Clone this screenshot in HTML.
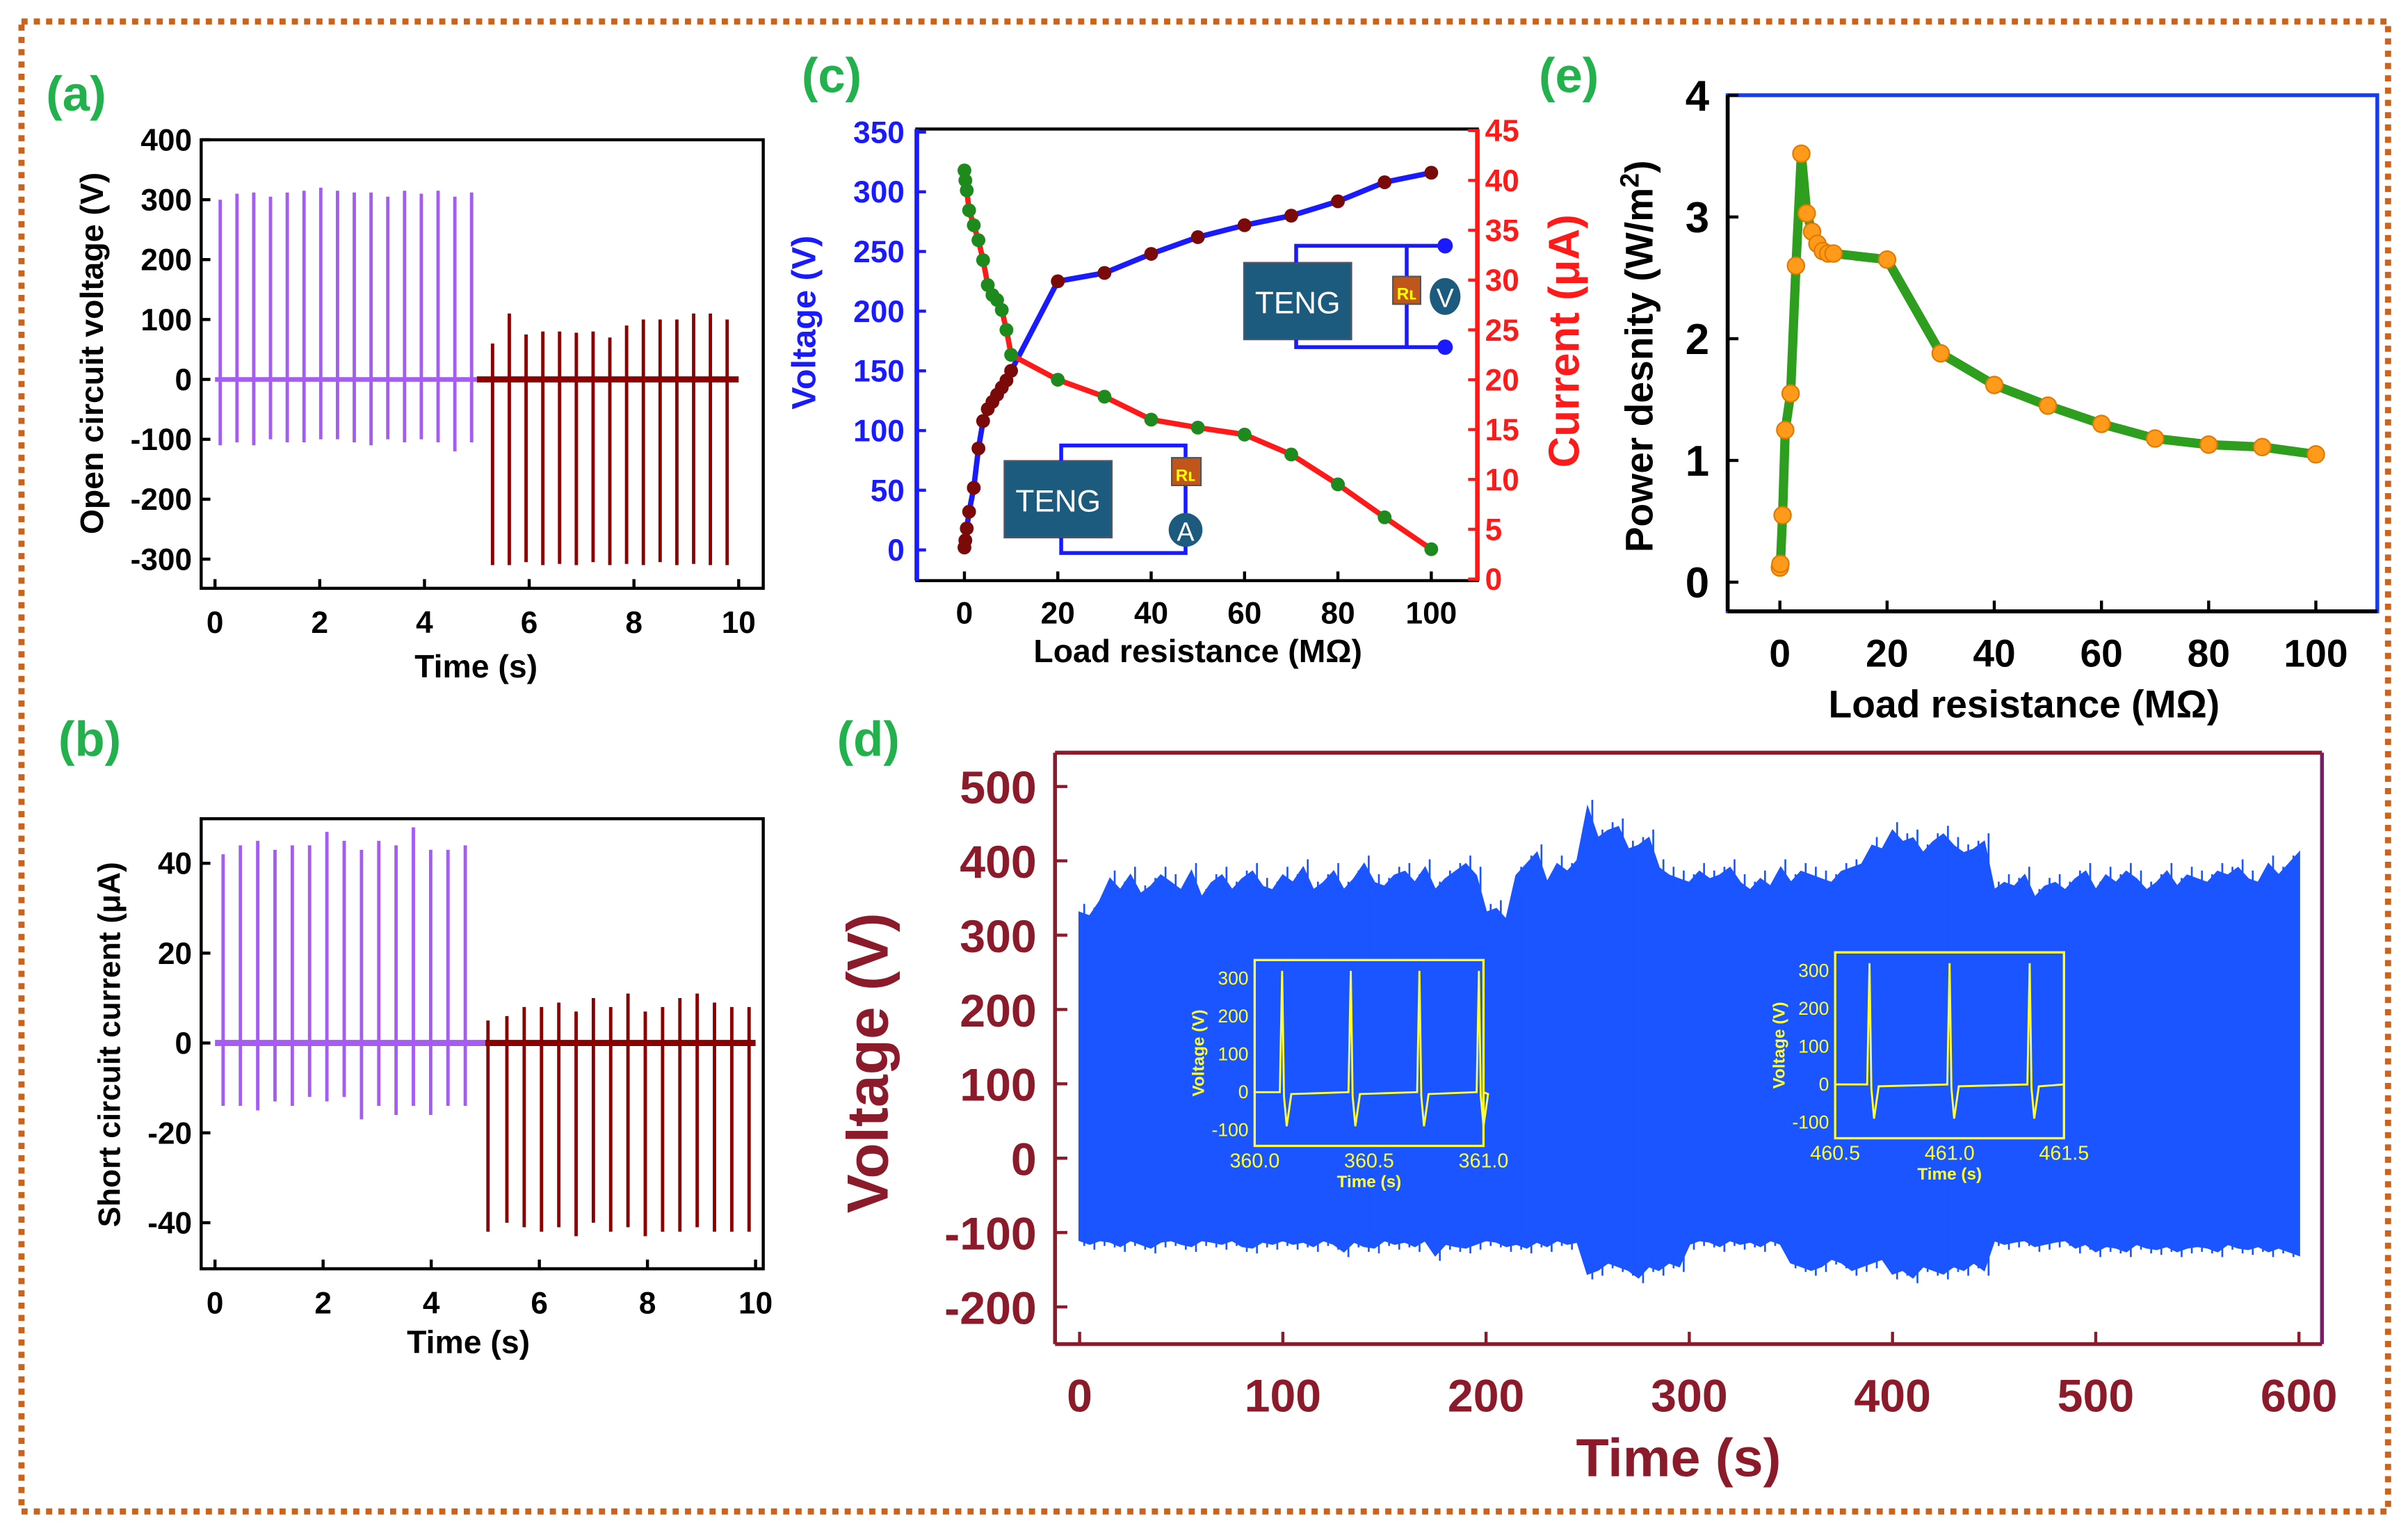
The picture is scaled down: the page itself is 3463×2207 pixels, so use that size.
<!DOCTYPE html>
<html><head><meta charset="utf-8">
<style>
html,body{margin:0;padding:0;background:#fff;}
svg{display:block;font-family:"Liberation Sans",Arial,sans-serif;font-weight:bold;}
</style></head>
<body>
<svg id="fig" xmlns="http://www.w3.org/2000/svg" width="3463" height="2207" viewBox="0 0 1568 999.3">
<rect x="14" y="14" width="1541" height="970" fill="none" stroke="#c8641e" stroke-width="4" stroke-dasharray="4 4"/>
<g id="root"></g>
</svg>
<script>
// ---------- DATA ----------
const aPurpleTimes=[0.1,0.42,0.74,1.06,1.38,1.7,2.02,2.34,2.66,2.98,3.3,3.62,3.94,4.26,4.58,4.9];
const aPurplePeaks=[300,310,312,305,312,315,320,315,312,312,305,315,310,315,305,312];
const aPurpleMins=[-110,-105,-110,-100,-105,-105,-100,-100,-105,-110,-100,-105,-100,-105,-120,-105];
const aRedTimes=[5.3,5.62,5.94,6.26,6.58,6.9,7.22,7.54,7.86,8.18,8.5,8.82,9.14,9.46,9.78];
const aRedPeaks=[60,110,75,80,80,78,80,70,90,100,100,100,110,110,100];
const aRedMins=[-310,-310,-305,-310,-308,-310,-305,-310,-308,-310,-305,-310,-308,-310,-310];
const bPurpleTimes=[0.15,0.47,0.79,1.11,1.43,1.75,2.07,2.39,2.71,3.03,3.35,3.67,3.99,4.31,4.63];
const bPurplePeaks=[42,44,45,43,44,44,47,45,43,45,44,48,43,43,44];
const bPurpleMins=[-14,-14,-15,-13,-14,-12,-13,-12,-17,-14,-16,-14,-16,-14,-14];
const bRedTimes=[5.05,5.4,5.72,6.04,6.36,6.68,7.0,7.32,7.64,7.96,8.28,8.6,8.92,9.24,9.56,9.88];
const bRedPeaks=[5,6,8,8,9,7,10,8,11,7,8,10,11,9,8,8];
const bRedMins=[-42,-40,-41,-42,-41,-43,-40,-42,-41,-43,-42,-42,-41,-42,-42,-42];
const cLoadV=[0,0.2,0.5,1,2,3,4,5,6,7,8,9,10,20,30,40,50,60,70,80,90,100];
const cVolt=[2,8,18,32,52,85,108,118,124,130,136,142,150,225,232,248,262,272,280,292,308,316];
const cLoadI=[0,0.2,0.5,1,2,3,4,5,6,7,8,9,10,20,30,40,50,60,70,80,90,100];
const cCurr=[41,40,39,37,35.5,34,32,29.5,28.5,28,27,25,22.5,20,18.3,16,15.2,14.5,12.5,9.5,6.2,3];
const eLoad=[0,0.1,0.5,1,2,3,4,5,6,7,8,9,10,20,30,40,50,60,70,80,90,100];
const ePower=[0.12,0.15,0.55,1.25,1.55,2.6,3.52,3.03,2.88,2.78,2.72,2.7,2.7,2.65,1.88,1.62,1.45,1.3,1.18,1.13,1.11,1.05];
const dTimes=[];for(let i=0;i<=120;i++)dTimes.push(i*5);
const dUpper=[330,325,345,375,360,380,355,365,380,370,360,385,350,370,380,360,375,385,365,360,380,370,390,360,370,385,360,375,395,370,365,380,385,370,390,360,375,385,395,380,
330,335,320,380,395,410,370,395,385,400,470,430,440,445,415,420,430,390,380,375,
370,385,375,380,390,370,360,375,365,390,370,385,380,375,370,385,390,395,420,415,
440,425,430,410,425,435,420,410,415,425,360,370,365,380,350,365,370,360,375,385,
360,380,370,385,375,360,370,385,365,380,375,370,385,380,390,375,370,395,380,395,410];
const dLower=[-110,-115,-110,-112,-118,-110,-115,-120,-112,-110,-115,-118,-110,-112,-115,-110,-118,-120,-112,-115,-110,-115,-112,-118,-110,-115,-125,-112,-118,-120,-110,-115,-112,-118,-110,-130,-115,-118,-120,-115,
-110,-112,-118,-115,-120,-112,-118,-110,-115,-112,-155,-150,-140,-145,-150,-160,-145,-150,-140,-145,
-115,-110,-112,-118,-110,-115,-112,-118,-110,-115,-140,-145,-150,-145,-135,-140,-150,-145,-140,-135,
-155,-150,-160,-145,-150,-155,-145,-150,-140,-150,-110,-115,-112,-110,-118,-115,-112,-110,-120,-115,
-125,-118,-120,-125,-115,-120,-122,-118,-125,-120,-118,-120,-125,-115,-120,-122,-118,-125,-120,-125,-130];
const dTicksX=[0,100,200,300,400,500,600];
const dTicksY=[-200,-100,0,100,200,300,400,500];
const in1Spikes=[360.12,360.42,360.72,360.98];
const in2Spikes=[460.65,461.0,461.35];

// ---------- helpers ----------
const NS="http://www.w3.org/2000/svg";
const root=document.getElementById('root');
function el(tag,attrs,parent,text){const e=document.createElementNS(NS,tag);for(const k in attrs)e.setAttribute(k,attrs[k]);if(text!==undefined)e.textContent=text;(parent||root).appendChild(e);return e;}
function lin(d0,d1,r0,r1){return v=>r0+(v-d0)*(r1-r0)/(d1-d0);}
function txt(x,y,s,size,fill,anchor,name,parent,rot){const t=el('text',{x:x,y:y,'font-size':size,fill:fill,'text-anchor':anchor||'middle'},parent,s);if(rot)t.setAttribute('transform','rotate(-90 '+x+' '+y+')');return t;}
function group(name){const g=el('g',{});return g;}
const GREEN='#22b14c';

[['(a)',30,72],['(b)',38,492],['(c)',522,60],['(e)',1002,60],['(d)',545,492]].forEach(p=>{
  txt(p[1],p[2],p[0],32,GREEN,'start','panel-label-'+p[0][1]);
});

// ---------- panel (a) ----------
(function(){
  const g=group('panel-a-voltage-chart');
  const x=lin(0,10,140,481), y=lin(0,400,247,91);
  const L=131,R=497,T=91,B=383;
  let l=el('line',{x1:x(0),x2:x(5),y1:y(0),y2:y(0),stroke:'#a45cf2','stroke-width':3},g);
  l=el('line',{x1:x(5),x2:x(10),y1:y(0),y2:y(0),stroke:'#8b0000','stroke-width':4},g);
  aPurpleTimes.forEach((t,i)=>{const s=el('line',{x1:x(t),x2:x(t),y1:y(aPurpleMins[i]),y2:y(aPurplePeaks[i]),stroke:'#a45cf2','stroke-width':2.2},g);
    });
  aRedTimes.forEach((t,i)=>{const s=el('line',{x1:x(t),x2:x(t),y1:y(aRedMins[i]),y2:y(aRedPeaks[i]),stroke:'#8b0000','stroke-width':2.2},g);
    });
  const f=el('rect',{x:L,y:T,width:R-L,height:B-T,fill:'none',stroke:'#000','stroke-width':2},g);
  [0,2,4,6,8,10].forEach(v=>{el('line',{x1:x(v),x2:x(v),y1:B,y2:B-6,stroke:'#000','stroke-width':2},g);txt(x(v),412,v,20,'#000','middle','x-tick-label',g);});
  [-300,-200,-100,0,100,200,300,400].forEach(v=>{el('line',{x1:L,x2:L+6,y1:y(v),y2:y(v),stroke:'#000','stroke-width':2},g);txt(L-6,y(v)+7,v,20,'#000','end','y-tick-label',g);});
  txt(310,441,'Time (s)',21,'#000','middle','x-axis-title',g);
  txt(67,230,'Open circuit voltage (V)',21,'#000','middle','y-axis-title',g,true);
})();

// ---------- panel (b) ----------
(function(){
  const g=group('panel-b-current-chart');
  const x=lin(0,10,140,492), y=lin(0,40,679,562);
  const L=131,R=497,T=533,B=826;
  let l=el('line',{x1:x(0),x2:x(5),y1:y(0),y2:y(0),stroke:'#a45cf2','stroke-width':4},g);
  l=el('line',{x1:x(5),x2:x(10),y1:y(0),y2:y(0),stroke:'#8b0000','stroke-width':4},g);
  bPurpleTimes.forEach((t,i)=>{const s=el('line',{x1:x(t),x2:x(t),y1:y(bPurpleMins[i]),y2:y(bPurplePeaks[i]),stroke:'#a45cf2','stroke-width':2.2},g);
    });
  bRedTimes.forEach((t,i)=>{const s=el('line',{x1:x(t),x2:x(t),y1:y(bRedMins[i]),y2:y(bRedPeaks[i]),stroke:'#8b0000','stroke-width':2.2},g);
    });
  const f=el('rect',{x:L,y:T,width:R-L,height:B-T,fill:'none',stroke:'#000','stroke-width':2},g);
  [0,2,4,6,8,10].forEach(v=>{el('line',{x1:x(v),x2:x(v),y1:B,y2:B-6,stroke:'#000','stroke-width':2},g);txt(x(v),855,v,20,'#000','middle','x-tick-label',g);});
  [-40,-20,0,20,40].forEach(v=>{el('line',{x1:L,x2:L+6,y1:y(v),y2:y(v),stroke:'#000','stroke-width':2},g);txt(L-6,y(v)+7,v,20,'#000','end','y-tick-label',g);});
  txt(305,881,'Time (s)',21,'#000','middle','x-axis-title',g);
  txt(78,680,'Short circuit current (\u03bcA)',20,'#000','middle','y-axis-title',g,true);
})();

// ---------- panel (c) ----------
(function(){
  const g=group('panel-c-load-chart');
  const x=lin(0,100,628,932), yv=lin(0,350,358,86), yi=lin(0,45,377,85);
  const L=597,R=962,T=84,B=378;
  const f=el('rect',{x:L,y:T,width:R-L,height:B-T,fill:'none',stroke:'#000','stroke-width':2},g);
  el('line',{x1:L,x2:L,y1:T,y2:B,stroke:'#1a1aff','stroke-width':3},g);
  el('line',{x1:R,x2:R,y1:T,y2:B,stroke:'#ff1a1a','stroke-width':3},g);
  function circuit(bx,by,name){
    const c=group(name);
    el('rect',{x:bx,y:by,width:70,height:50,fill:'#1d5b7e',stroke:'#556',"stroke-width":1},c);
    txt(bx+35,by+33,'TENG',20,'#fff','middle','teng-label',c).setAttribute('font-weight','normal');
    return c;
  }
  let c1=circuit(810,171,'circuit-voltage');
  el('polyline',{points:'844,171 844,160 941,160',fill:'none',stroke:'#1a1aff','stroke-width':2.5},c1);
  el('polyline',{points:'844,221 844,226 941,226',fill:'none',stroke:'#1a1aff','stroke-width':2.5},c1);
  el('line',{x1:916,x2:916,y1:160,y2:226,stroke:'#1a1aff','stroke-width':2.5},c1);
  el('rect',{x:907,y:180,width:18,height:18,fill:'#c0561a',stroke:'#555'},c1);
  txt(916,195,'R\u029f',11,'#ffff00','middle','rl-label',c1);
  el('circle',{cx:941,cy:160,r:5,fill:'#1a1aff'},c1);el('circle',{cx:941,cy:226,r:5,fill:'#1a1aff'},c1);
  el('ellipse',{cx:941,cy:193,rx:10,ry:12,fill:'#1d5b7e'},c1);
  txt(941,200,'V',17,'#fff','middle','voltmeter-label',c1).setAttribute('font-weight','normal');
  let c2=circuit(654,300,'circuit-current');
  el('polyline',{points:'691,300 691,290 772,290 772,298',fill:'none',stroke:'#1a1aff','stroke-width':2.5},c2);
  el('polyline',{points:'691,350 691,360 772,360 772,355',fill:'none',stroke:'#1a1aff','stroke-width':2.5},c2);
  el('line',{x1:772,x2:772,y1:316,y2:336,stroke:'#1a1aff','stroke-width':2.5},c2);
  el('rect',{x:763,y:298,width:19,height:18,fill:'#c0561a',stroke:'#555'},c2);
  txt(772,313,'R\u029f',11,'#ffff00','middle','rl-label',c2);
  el('circle',{cx:772,cy:345,r:11,fill:'#1d5b7e'},c2);
  txt(772,352,'A',17,'#fff','middle','ammeter-label',c2).setAttribute('font-weight','normal');
  const pv=el('polyline',{points:cLoadV.map((r,i)=>x(r)+','+yv(cVolt[i])).join(' '),fill:'none',stroke:'#1a1aff','stroke-width':3.5},g);
  
  const pi=el('polyline',{points:cLoadI.map((r,i)=>x(r)+','+yi(cCurr[i])).join(' '),fill:'none',stroke:'#ff1a1a','stroke-width':3.5},g);
  
  cLoadV.forEach((r,i)=>{const m=el('circle',{cx:x(r),cy:yv(cVolt[i]),r:4.5,fill:'#7a0a0a'},g);});
  cLoadI.forEach((r,i)=>{const m=el('circle',{cx:x(r),cy:yi(cCurr[i]),r:4.5,fill:'#1e8a1e'},g);});
  [0,20,40,60,80,100].forEach(v=>{el('line',{x1:x(v),x2:x(v),y1:B,y2:B-6,stroke:'#000','stroke-width':2},g);txt(x(v),406,v,20,'#000','middle','x-tick-label',g);});
  [0,50,100,150,200,250,300,350].forEach(v=>{el('line',{x1:L,x2:L+6,y1:yv(v),y2:yv(v),stroke:'#1a1aff','stroke-width':2},g);txt(L-8,yv(v)+7,v,20,'#1a1aff','end','y-left-tick-label',g);});
  [0,5,10,15,20,25,30,35,40,45].forEach(v=>{el('line',{x1:R,x2:R-6,y1:yi(v),y2:yi(v),stroke:'#ff1a1a','stroke-width':2},g);txt(R+5,yi(v)+7,v,20,'#ff1a1a','start','y-right-tick-label',g);});
  txt(780,431,'Load resistance (M\u03a9)',21,'#000','middle','x-axis-title',g);
  txt(531,210,'Voltage (V)',22,'#1a1aff','middle','y-left-axis-title',g,true);
  txt(1028,222,'Current (\u03bcA)',28,'#ff1a1a','middle','y-right-axis-title',g,true);
})();

// ---------- panel (e) ----------
(function(){
  const g=group('panel-e-power-chart');
  const x=lin(0,100,1159,1508), y=lin(0,4,379,62);
  const L=1125,R=1548,T=62,B=398;
  const f=el('rect',{x:L,y:T,width:R-L,height:B-T,fill:'none',stroke:'#1a3fe0','stroke-width':2.5},g);
  el('line',{x1:L,x2:L,y1:T,y2:B,stroke:'#000','stroke-width':2.5},g);
  el('line',{x1:L,x2:R,y1:B,y2:B,stroke:'#000','stroke-width':2.5},g);
  const p=el('polyline',{points:eLoad.map((r,i)=>x(r)+','+y(ePower[i])).join(' '),fill:'none',stroke:'#2e9e1e','stroke-width':6},g);
  
  eLoad.forEach((r,i)=>{const m=el('circle',{cx:x(r),cy:y(ePower[i]),r:5.5,fill:'#ff9a1a',stroke:'#e07a00','stroke-width':1},g);});
  [0,20,40,60,80,100].forEach(v=>{el('line',{x1:x(v),x2:x(v),y1:B,y2:B-7,stroke:'#000','stroke-width':2},g);txt(x(v),434,v,25,'#000','middle','x-tick-label',g);});
  [0,1,2,3,4].forEach(v=>{el('line',{x1:L,x2:L+7,y1:y(v),y2:y(v),stroke:'#000','stroke-width':2},g);txt(L-12,y(v)+10,v,28,'#000','end','y-tick-label',g);});
  txt(1318,467,'Load resistance (M\u03a9)',25,'#000','middle','x-axis-title',g);
  const yt=txt(1076,232,'Power desnity (W/m',25,'#000','middle','y-axis-title',g,true);
  el('tspan',{dy:-9,'font-size':17},yt,'2');el('tspan',{dy:9},yt,')');
})();

// ---------- panel (d) ----------
(function(){
  const g=group('panel-d-longterm-chart');
  const x=lin(0,600,703,1497), y=lin(0,500,754,512);
  const L=687,R=1512,T=490,B=875;
  const n=Math.min(dTimes.length,dUpper.length,dLower.length);
  const up=[],lo=[];
  for(let i=0;i<n;i++){up.push(x(dTimes[i])+','+y(dUpper[i]));}
  for(let i=n-1;i>=0;i--){lo.push(x(dTimes[i])+','+y(dLower[i]));}
  const band=el('polygon',{points:up.concat(lo).join(' '),fill:'#1a55ff',stroke:'#1a55ff','stroke-width':1.5},g);
  
  for(let i=0;i<n-1;i++){const t=dTimes[i];const s=el('line',{x1:x(t)+3,x2:x(t)+3,y1:y(dLower[i]-8),y2:y(dUpper[i]+12),stroke:'#1a55ff','stroke-width':1.2},g);}
  el('line',{x1:L,x2:R,y1:T,y2:T,stroke:'#8b1a2a','stroke-width':2.5},g);
  el('line',{x1:L,x2:L,y1:T,y2:B,stroke:'#8b1a2a','stroke-width':2.5},g);
  el('line',{x1:L,x2:R,y1:B,y2:B,stroke:'#8b1a2a','stroke-width':2.5},g);
  el('line',{x1:R,x2:R,y1:T,y2:B,stroke:'#7a1a6a','stroke-width':2.5},g);
  dTicksX.forEach(v=>{el('line',{x1:x(v),x2:x(v),y1:B,y2:B-8,stroke:'#8b1a2a','stroke-width':2},g);txt(x(v),919,v,30,'#8b1a2a','middle','x-tick-label',g);});
  dTicksY.forEach(v=>{el('line',{x1:L,x2:L+8,y1:y(v),y2:y(v),stroke:'#8b1a2a','stroke-width':2},g);txt(L-12,y(v)+11,v,30,'#8b1a2a','end','y-tick-label',g);});
  txt(1093,961,'Time (s)',35,'#8b1a2a','middle','x-axis-title',g);
  txt(578,692,'Voltage (V)',38,'#8b1a2a','middle','y-axis-title',g,true);
  function inset(bx,by,t0,spikes,ticks,name){
    const ig=group(name);
    const w=149,h=121;
    const ix=lin(t0,t0+1,bx,bx+w), iy=lin(0,300,by+86,by+12);
    el('rect',{x:bx,y:by,width:w,height:h,fill:'#1a55ff',stroke:'#ffff33','stroke-width':1.5},ig);
    let d='M'+bx+','+iy(0);
    spikes.forEach(s=>{d+=' L'+ix(s-0.01)+','+iy(0)+' L'+ix(s)+','+iy(320)+' L'+ix(s+0.008)+','+iy(-10)+' L'+ix(s+0.02)+','+iy(-90)+' L'+ix(s+0.04)+','+iy(-5);});
    d+=' L'+(bx+w)+','+iy(0);
    const p=el('path',{d:d,fill:'none',stroke:'#ffff33','stroke-width':1.3},ig);
    [-100,0,100,200,300].forEach(v=>{txt(bx-4,iy(v)+4,v,12,'#ffff33','end','inset-y-tick',ig).setAttribute('font-weight','normal');});
    ticks.forEach(v=>{txt(ix(v),by+h+14,v.toFixed(1),13,'#ffff33','middle','inset-x-tick',ig).setAttribute('font-weight','normal');});
    txt(bx+w/2,by+h+27,'Time (s)',11,'#ffff33','middle','inset-x-title',ig);
    txt(bx-33,by+h/2,'Voltage (V)',11,'#ffff33','middle','inset-y-title',ig,true);
  }
  inset(817,625,360,in1Spikes,[360.0,360.5,361.0],'inset-360s');
  inset(1195,620,460.5,in2Spikes,[460.5,461.0,461.5],'inset-460s');
})();
</script>
</body></html>
